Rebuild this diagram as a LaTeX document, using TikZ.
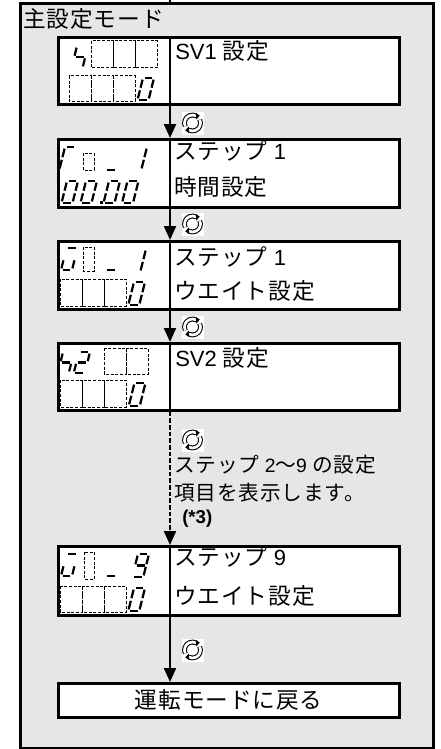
\documentclass[tikz,border=0pt]{standalone}
\usepackage{fontspec}
\setmainfont{Liberation Sans}
\newfontfamily\jp[LetterSpace=4]{Noto Sans CJK JP}
\usetikzlibrary{arrows.meta}
\definecolor{bgc}{HTML}{E6E6E6}
\newcommand\Jf{\fontsize{17}{20}\jp}
\newcommand\Lf{\fontsize{16.5}{19}\selectfont}
\newcommand\Js{\fontsize{15.5}{18}\jp}
\newcommand\Ls{\fontsize{14.5}{17}\selectfont}
\newcommand\dig[4]{\begin{scope}[shift={(#1,#2)},xslant=0.25]\def\hh{#3}#4\end{scope}}
\newcommand\sgA{\draw[sg] (1.6,0) -- (9.4,0);}
\newcommand\sgB{\draw[sg] (11,1.6) -- (11,\hh/2-1.3);}
\newcommand\sgC{\draw[sg] (11,\hh/2+1.3) -- (11,\hh-1.6);}
\newcommand\sgD{\draw[sg] (1.6,\hh) -- (9.4,\hh);}
\newcommand\sgE{\draw[sg] (0,\hh/2+1.3) -- (0,\hh-1.6);}
\newcommand\sgF{\draw[sg] (0,1.6) -- (0,\hh/2-1.3);}
\newcommand\sgG{\draw[sg] (1.6,\hh/2) -- (9.4,\hh/2);}
\newcommand\zero{\sgA\sgB\sgC\sgD\sgE\sgF}
\tikzset{
  sg/.style={line width=1.7pt},
  cell/.style={draw=black, line width=0.75pt, dash pattern=on 2.2pt off 1.3pt},
  frame/.style={draw, fill=bgc, line width=1.9pt, inner sep=0pt, anchor=north west,
    minimum width=309.75pt, minimum height=558.75pt},
  box/.style={draw, fill=white, line width=1.9pt, inner sep=0pt, anchor=north west,
    minimum width=255.75pt},
  divl/.style={line width=1.9pt},
  arr/.style={line width=1.6pt, -{Triangle[width=9pt,length=10.5pt]}},
  darr/.style={arr, dash pattern=on 3.5pt off 1.5pt},
  txt/.style={anchor=west, inner sep=0pt, font=\Lf},
  rot/.pic={
    \fill[white] (-11,-11.5) rectangle (11,11.5);
    \draw[line width=0.8pt, double distance=2pt] (-25:8) arc[start angle=-25, end angle=118, radius=8];
    \draw[line width=0.8pt, double distance=2pt] (155:8) arc[start angle=155, end angle=298, radius=8];
    \fill (118:8) ++(0,-3.5) -- ++(-3.5,3.8) -- ++(4,2.8) -- cycle;
    \fill (298:8) ++(0,3.5) -- ++(3.5,-3.8) -- ++(-4,-2.8) -- cycle;
  }
}
\begin{document}
\begin{tikzpicture}[x=0.75pt,y=-0.75pt]
\useasboundingbox (0,0) rectangle (441,749);
\coordinate (ax) at (170,0);
\node[frame] (frame) at (19,2) {};
\draw[line width=1.2pt] (ax) -- (frame.north -| ax);
\node[txt, font=\Jf] (title) at (23,19) {主設定モード};
% boxes
\node[box, minimum height=50.25pt] (b1) at (57,36) {};
\node[box, minimum height=51pt] (b2) at (57,138) {};
\node[box, minimum height=51pt] (b3) at (57,240) {};
\node[box, minimum height=50.25pt] (b4) at (57,342) {};
\node[box, minimum height=51.75pt] (b5) at (57,545) {};
\node[box, minimum height=25.5pt, font=\Jf] (b6) at (57,682) {運転モードに戻る};
\foreach \b in {b1,b2,b3,b4,b5} \draw[divl] (\b.north -| ax) -- (\b.south -| ax);
% connectors
\draw[arr] (b1.south -| ax) -- (b2.north -| ax);
\draw[arr] (b2.south -| ax) -- (b3.north -| ax);
\draw[arr] (b3.south -| ax) -- (b4.north -| ax);
\draw[darr] (b4.south -| ax) -- (b5.north -| ax);
\draw[arr] (b5.south -| ax) -- (b6.north -| ax);
\pic at (192.5,123) {rot};
\pic at (192.5,224) {rot};
\pic at (192.5,327) {rot};
\pic at (192.5,440) {rot};
\pic at (192.5,650) {rot};
% texts
\node[txt] (t1) at (175,51) {SV1 {\Jf 設定}};
\node[txt] (t2a) at (174,151) {{\Jf ステップ} 1};
\node[txt, font=\Jf] (t2b) at (174,187) {時間設定};
\node[txt] (t3a) at (174,257) {{\Jf ステップ} 1};
\node[txt, font=\Jf] (t3b) at (174,291) {ウエイト設定};
\node[txt] (t4) at (175,358) {SV2 {\Jf 設定}};
\node[txt] (t5a) at (174,557) {{\Jf ステップ} 9};
\node[txt, font=\Jf] (t5b) at (174,596) {ウエイト設定};
\node[txt, font=\Ls] (l1) at (174,465) {{\Js ステップ} 2{\Js ～}9 {\Js の設定}};
\node[txt, font=\Js] (l2) at (174,493) {項目を表示します。};
\node[txt, font=\fontsize{14}{16}\bfseries] (l3) at (182,519) {(*3)};
% box 1 display
\dig{77}{46}{22}{\sgF\sgG\sgC}
\draw[cell] (91,41) rectangle (113,68) (113,41) rectangle (135,68) (135,41) rectangle (157,68);
\draw[cell] (69,76) rectangle (91,101) (91,76) rectangle (113,101) (113,76) rectangle (135,101);
\dig{143}{78}{22}{\zero}
% box 2 display
\dig{65}{147}{23}{\sgA\sgF\sgE}
\draw[cell] (83,153) rectangle (94,170);
\dig{111}{147}{23}{\sgD}
\dig{136}{147}{23}{\sgB\sgC}
\dig{67}{181}{22}{\zero}
\dig{86}{181}{22}{\zero}
\dig{109}{181}{22}{\zero}
\dig{127.5}{181}{22}{\zero}
\fill (99.5,201) rectangle (102.5,204);
% box 3 display
\dig{66.5}{248}{22}{\sgA\sgC\sgD\sgE}
\draw[cell] (83,247) rectangle (94,271);
\dig{111}{248}{22}{\sgD}
\dig{135}{249}{23}{\sgB\sgC}
\draw[cell] (60,279) rectangle (82,306) (82,279) rectangle (104,306) (104,279) rectangle (126,306);
\dig{134}{282}{23}{\zero}
% box 4 display
\dig{63}{352}{21}{\sgF\sgG\sgC}
\dig{79}{352}{21}{\sgA\sgB\sgG\sgE\sgD}
\draw[cell] (104,348) rectangle (126,374) (126,348) rectangle (148,374);
\draw[cell] (60,380) rectangle (82,407) (82,380) rectangle (104,407) (104,380) rectangle (126,407);
\dig{134.5}{383}{23}{\zero}
% box 5 display
\dig{66.5}{554}{22}{\sgA\sgC\sgD\sgE}
\draw[cell] (84,552) rectangle (94,579);
\dig{111}{554}{22}{\sgD}
\dig{138}{554}{23}{\sgA\sgB\sgC\sgD\sgF\sgG}
\draw[cell] (60,586) rectangle (82,612) (82,586) rectangle (104,612) (104,586) rectangle (126,612);
\dig{134}{588}{23}{\zero}
\end{tikzpicture}
\end{document}
